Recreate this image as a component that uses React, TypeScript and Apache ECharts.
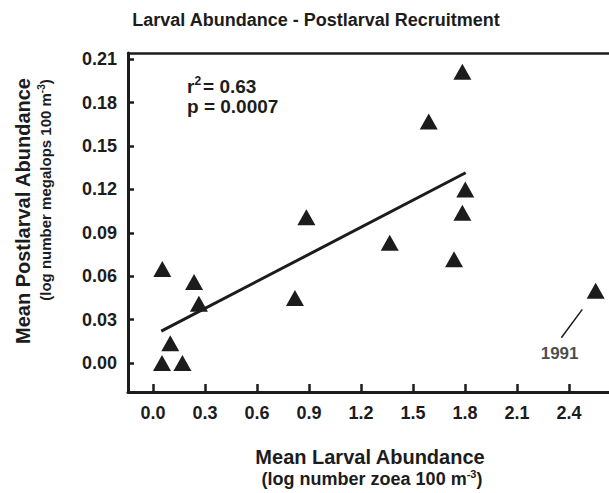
import React, { useEffect, useRef } from "react";
import * as echarts from "echarts";

const chartTitle = "Larval Abundance - Postlarval Recruitment";
const xTicks = [0, 0.3, 0.6, 0.9, 1.2, 1.5, 1.8, 2.1, 2.4];
const yTicks = [0, 0.03, 0.06, 0.09, 0.12, 0.15, 0.18, 0.21];

// Mean larval abundance (log zoea) and mean postlarval abundance (log megalops)
const larval = [0.054, 0.052, 0.1, 0.17, 0.237, 0.265, 0.819, 0.885, 1.366, 1.591, 1.737, 1.785, 1.785, 1.802, 2.554];
const postlarval = [0.065, 0.0, 0.0136, 0.0, 0.056, 0.041, 0.045, 0.1007, 0.0831, 0.167, 0.0717, 0.1039, 0.2013, 0.12, 0.05];

const fitX = [0.048, 1.804];
const fitY = [0.022, 0.1315];

const leaderX = [2.477, 2.356];
const leaderY = [0.0371, 0.0175];
const noteLabel = "1991";
const noteX = [2.346];
const noteY = [0.0069];

const stats = { r2: "0.63", p: "0.0007" };

const FONT = "'Liberation Sans', Arial, Helvetica, sans-serif";
const INK = "#1c1c1c";

export default function App() {
  const ref = useRef<HTMLDivElement>(null);
  useEffect(() => {
    if (!ref.current) return;
    const chart = echarts.init(ref.current, undefined, { renderer: "svg" });
    const xRange = { min: -0.144, max: 2.631 };
    const yRange = { min: -0.02005, max: 0.2143 };
    const option: any = {
      animation: false,
      backgroundColor: "#ffffff",
      textStyle: { fontFamily: FONT },
      grid: { left: 128, right: 0, top: 53, bottom: 101, containLabel: false, outerBoundsMode: "none" },
      xAxis: [
        {
          type: "value",
          position: "bottom",
          ...xRange,
          axisLine: { show: true, onZero: false, lineStyle: { color: INK, width: 3 } },
          axisTick: { show: true, inside: true, length: 8, customValues: xTicks, lineStyle: { color: INK, width: 2.5 } },
          axisLabel: {
            show: true,
            customValues: xTicks,
            formatter: (v: number) => v.toFixed(1),
            fontSize: 18,
            fontWeight: "bold",
            color: INK,
            fontFamily: FONT,
            margin: 12,
          },
          splitLine: { show: false },
        },
        {
          type: "value",
          position: "top",
          ...xRange,
          axisLine: { show: true, onZero: false, lineStyle: { color: INK, width: 2.5 } },
          axisTick: { show: false },
          axisLabel: { show: false },
          splitLine: { show: false },
        },
      ],
      yAxis: {
        type: "value",
        ...yRange,
        axisLine: { show: true, onZero: false, lineStyle: { color: INK, width: 3 } },
        axisTick: { show: true, inside: true, length: 6, customValues: yTicks, lineStyle: { color: INK, width: 2.5 } },
        axisLabel: {
          show: true,
          customValues: yTicks,
          formatter: (v: number) => v.toFixed(2),
          fontSize: 18,
          fontWeight: "bold",
          color: INK,
          fontFamily: FONT,
          margin: 11,
        },
        splitLine: { show: false },
      },
      series: [
        {
          type: "line",
          silent: true,
          symbol: "none",
          data: fitX.map((x, i) => [x, fitY[i]]),
          lineStyle: { color: INK, width: 3 },
          z: 2,
        },
        {
          type: "line",
          silent: true,
          symbol: "none",
          data: leaderX.map((x, i) => [x, leaderY[i]]),
          lineStyle: { color: INK, width: 1.5 },
        },
        {
          type: "scatter",
          silent: true,
          symbol: "triangle",
          symbolSize: [18, 16],
          itemStyle: { color: INK, opacity: 1 },
          data: larval.map((x, i) => [x, postlarval[i]]),
          z: 3,
        },
        {
          type: "scatter",
          silent: true,
          symbolSize: 1,
          itemStyle: { color: "rgba(0,0,0,0)" },
          data: noteX.map((x, i) => [x, noteY[i]]),
          label: {
            show: true,
            position: "inside",
            formatter: noteLabel,
            fontSize: 17,
            fontWeight: "bold",
            color: INK,
            fontFamily: FONT,
          },
        },
      ],
      graphic: [
        {
          type: "text",
          x: 316,
          y: 20,
          silent: true,
          style: {
            text: chartTitle,
            align: "center",
            verticalAlign: "middle",
            font: `bold 18px ${FONT}`,
            fill: INK,
          },
        },
        {
          type: "text",
          x: 187,
          y: 86,
          silent: true,
          style: {
            text: `{a|r}{s|2}{a|= ${stats.r2}}`,
            align: "left",
            verticalAlign: "middle",
            fill: INK,
            rich: {
              a: { fontSize: 19, fontWeight: "bold", fontFamily: FONT, fill: INK, lineHeight: 22 },
              s: { fontSize: 12, fontWeight: "bold", fontFamily: FONT, fill: INK, padding: [0, 2, 11, 0] },
            },
          },
        },
        {
          type: "text",
          x: 187,
          y: 106,
          silent: true,
          style: {
            text: `p = ${stats.p}`,
            align: "left",
            verticalAlign: "middle",
            font: `bold 19px ${FONT}`,
            fill: INK,
          },
        },
        {
          type: "text",
          x: 370,
          y: 457,
          silent: true,
          style: {
            text: "Mean Larval Abundance",
            align: "center",
            verticalAlign: "middle",
            font: `bold 20px ${FONT}`,
            fill: INK,
          },
        },
        {
          type: "text",
          x: 372,
          y: 479,
          silent: true,
          style: {
            text: "{a|(log number zoea 100 m}{s|-3}{a|)}",
            align: "center",
            verticalAlign: "middle",
            fill: INK,
            rich: {
              a: { fontSize: 18, fontWeight: "bold", fontFamily: FONT, fill: INK, lineHeight: 22 },
              s: { fontSize: 11, fontWeight: "bold", fontFamily: FONT, fill: INK, padding: [0, 0, 10, 0] },
            },
          },
        },
        {
          type: "text",
          x: 23,
          y: 211,
          rotation: Math.PI / 2,
          silent: true,
          style: {
            text: "Mean Postlarval Abundance",
            align: "center",
            verticalAlign: "middle",
            font: `bold 20px ${FONT}`,
            fill: INK,
          },
        },
        {
          type: "text",
          x: 45,
          y: 190,
          rotation: Math.PI / 2,
          silent: true,
          style: {
            text: "{a|(log number megalops 100 m}{s|-3}{a|)}",
            align: "center",
            verticalAlign: "middle",
            fill: INK,
            rich: {
              a: { fontSize: 15, fontWeight: "bold", fontFamily: FONT, fill: INK, lineHeight: 18 },
              s: { fontSize: 10, fontWeight: "bold", fontFamily: FONT, fill: INK, padding: [0, 0, 8, 0] },
            },
          },
        },
      ],
    };
    chart.setOption(option);
    return () => chart.dispose();
  }, []);
  return (
    <div
      ref={ref}
      style={{ position: "absolute", left: 0, top: 0, width: 609, height: 493, background: "#fff" }}
    />
  );
}
